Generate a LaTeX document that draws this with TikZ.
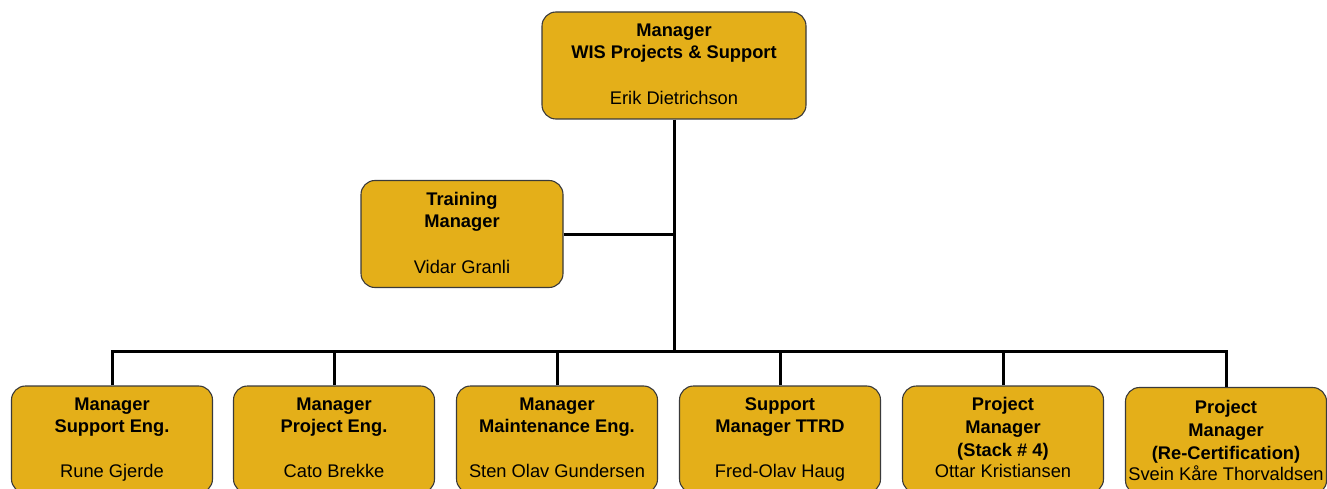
\documentclass[tikz,border=0pt]{standalone}
\usepackage{fontspec}
\setmainfont{Liberation Sans}
\definecolor{boxfill}{HTML}{E4AF19}
\definecolor{boxline}{HTML}{3A3A3A}
\begin{document}
\begin{tikzpicture}[x=1pt,y=-1pt,
  orgbox/.style={draw=boxline,line width=1.1pt,fill=boxfill,rounded corners=14pt,
    minimum width=#1,minimum height=107pt,inner sep=0pt},
  orgbox/.default=201pt,
  txt/.style={anchor=base,inner sep=0pt,font=\fontsize{18.3}{22}\selectfont},
  btxt/.style={txt,font=\fontsize{18.3}{22}\selectfont\bfseries},
  conn/.style={line width=3pt,black}]
\useasboundingbox (0,0) rectangle (1327,489);
% boxes
\node[orgbox=264pt] (top) at (674,65.5) {};
\node[orgbox=202pt] (train) at (462,234) {};
\node[orgbox] (b1) at (112,439.5) {};
\node[orgbox] (b2) at (334,439.5) {};
\node[orgbox] (b3) at (557,439.5) {};
\node[orgbox] (b4) at (780,439.5) {};
\node[orgbox] (b5) at (1003,439.5) {};
\node[orgbox] (b6) at (1226,441) {};
\coordinate (bus) at (674,351);
% connectors
\draw[conn] (top.south) -- (bus);
\draw[conn] (train.east) -- (train.east -| top.south);
\draw[conn] (b1.north) |- (bus) -| (b6.north);
\draw[conn] (b2.north) -- (b2.north |- bus);
\draw[conn] (b3.north) -- (b3.north |- bus);
\draw[conn] (b4.north) -- (b4.north |- bus);
\draw[conn] (b5.north) -- (b5.north |- bus);
% texts
\node[btxt] (t1) at (674,37) {Manager};
\node[btxt] (t2) at (674,59) {WIS Projects \& Support};
\node[txt] (t3) at (674,105) {Erik Dietrichson};
\node[btxt] (r1) at (462,205) {Training};
\node[btxt] (r2) at (462,227) {Manager};
\node[txt] (r3) at (462,273) {Vidar Granli};
\node[btxt] (a1) at (112,410) {Manager};
\node[btxt] (a2) at (112,432) {Support Eng.};
\node[txt] (a3) at (112,477) {Rune Gjerde};
\node[btxt] (c1) at (334,410) {Manager};
\node[btxt] (c2) at (334,432) {Project Eng.};
\node[txt] (c3) at (334,477) {Cato Brekke};
\node[btxt] (d1) at (557,410) {Manager};
\node[btxt] (d2) at (557,432) {Maintenance Eng.};
\node[txt] (d3) at (557,477) {Sten Olav Gundersen};
\node[btxt] (e1) at (780,410) {Support};
\node[btxt] (e2) at (780,432) {Manager TTRD};
\node[txt] (e3) at (780,477) {Fred-Olav Haug};
\node[btxt] (f1) at (1003,410) {Project};
\node[btxt] (f2) at (1003,433) {Manager};
\node[btxt] (f3) at (1003,456) {(Stack \# 4)};
\node[txt] (f4) at (1003,477) {Ottar Kristiansen};
\node[btxt] (g1) at (1226,413) {Project};
\node[btxt] (g2) at (1226,436) {Manager};
\node[btxt] (g3) at (1226,459) {(Re-Certification)};
\node[txt] (g4) at (1226,480) {Svein Kåre Thorvaldsen};
\end{tikzpicture}
\end{document}
